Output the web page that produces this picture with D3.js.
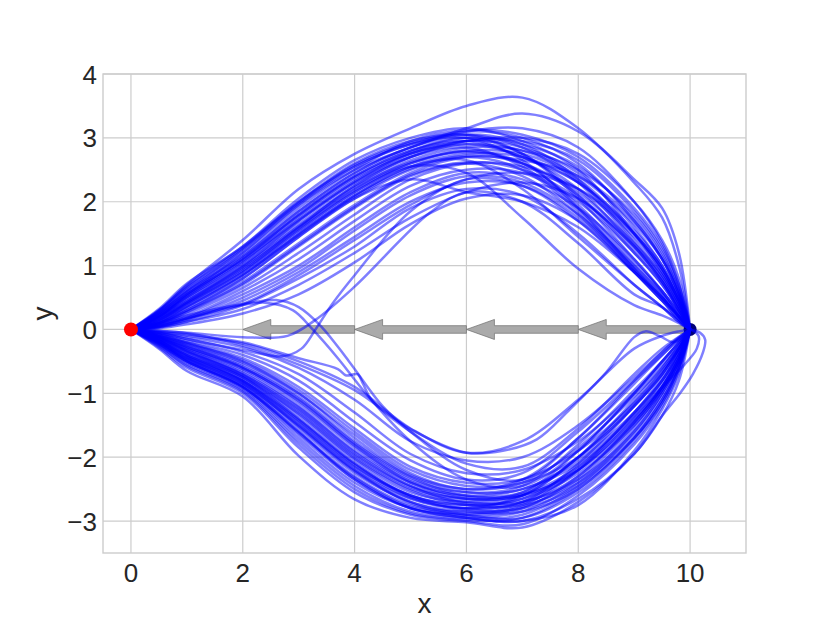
<!DOCTYPE html>
<html><head><meta charset="utf-8">
<script src="https://cdn.jsdelivr.net/npm/d3@7"></script>
<style>body{margin:0;background:#fff}svg{display:block}</style>
</head><body>
<svg id="c" width="830" height="623"></svg>
<script>
// ---- data ----
const xTicks = [0, 2, 4, 6, 8, 10];
const yTicks = [-3, -2, -1, 0, 1, 2, 3, 4];
const stations = [0, 0.5, 1, 2, 3, 4, 5, 6, 7, 8, 9, 9.5, 9.8, 10];
const upperPaths = [
  [0,0.3,0.7,1.4,2.2,2.75,3.15,3.5,3.63,3.15,2.3,1.75,1.0,0],
  [0,0.2,0.55,1.2,1.95,2.5,2.85,3.15,3.38,3.1,2.35,1.9,1.2,0],
  [0,0.32,0.72,1.3,2.05,2.65,3.0,3.15,2.95,2.5,1.5,0.9,0.45,0],
  [0,0.28,0.65,1.25,2.0,2.55,2.9,3.1,3.0,2.6,1.7,1.1,0.55,0],
  [0,0.25,0.6,1.15,1.85,2.45,2.85,3.05,2.9,2.35,1.4,0.85,0.4,0],
  [0,0.22,0.55,1.1,1.8,2.4,2.8,3.0,2.75,2.1,1.2,0.7,0.3,0],
  [0,0.2,0.5,1.05,1.7,2.3,2.75,2.95,2.85,2.45,1.6,1.0,0.5,0],
  [0,0.18,0.45,1.0,1.65,2.25,2.7,2.9,2.7,2.2,1.3,0.75,0.35,0],
  [0,0.15,0.42,0.95,1.6,2.2,2.65,2.85,2.8,2.5,1.8,1.2,0.6,0],
  [0,0.14,0.4,0.9,1.55,2.15,2.6,2.8,2.6,1.95,1.05,0.6,0.25,0],
  [0,0.12,0.36,0.85,1.5,2.1,2.55,2.75,2.7,2.3,1.5,0.95,0.45,0],
  [0,0.1,0.33,0.8,1.45,2.05,2.5,2.7,2.5,1.85,0.95,0.5,0.2,0],
  [0,0.1,0.3,0.75,1.35,1.95,2.45,2.7,2.65,2.4,1.7,1.1,0.55,0],
  [0,0.08,0.27,0.7,1.3,1.9,2.4,2.6,2.4,1.8,0.9,0.45,0.15,0],
  [0,0.07,0.24,0.65,1.2,1.8,2.35,2.6,2.55,2.2,1.45,0.9,0.4,0],
  [0,0.06,0.2,0.6,1.1,1.7,2.25,2.5,2.45,2.0,1.2,0.7,0.3,0],
  [0,0.05,0.18,0.55,1.0,1.6,2.15,2.45,2.35,1.9,1.1,0.6,0.25,0],
  [0,0.04,0.15,0.45,0.9,1.45,2.0,2.3,2.25,1.75,0.95,0.5,0.2,0],
  [0,0.03,0.12,0.38,0.8,1.3,1.9,2.2,2.1,1.5,0.7,0.35,0.12,0],
  [0,0.25,0.6,1.25,1.95,2.55,2.9,3.0,2.65,1.9,0.95,0.5,0.2,0],
  [0,0.27,0.62,1.2,1.9,2.5,2.95,3.12,3.05,2.7,1.9,1.3,0.7,0],
  [0,0.3,0.68,1.3,2.0,2.6,2.95,3.05,2.75,2.05,1.1,0.6,0.25,0],
  [0,0.22,0.5,1.05,1.75,2.35,2.75,2.95,3.0,2.75,2.0,1.4,0.8,0],
  [0,0.18,0.48,1.0,1.7,2.3,2.7,2.85,2.55,1.9,1.0,0.55,0.2,0],
  [0,0.2,0.45,0.95,1.6,2.25,2.7,2.95,2.95,2.65,1.85,1.25,0.65,0],
  [0,0.15,0.4,0.9,1.55,2.15,2.55,2.45,1.75,0.95,0.38,0.22,0.1,0],
  [0,0.12,0.35,0.85,1.5,2.1,2.55,2.65,2.2,1.45,0.7,0.35,0.12,0],
  [0,0.1,0.3,0.8,1.45,2.05,2.35,2.15,2.0,1.6,0.9,0.5,0.2,0],
  [0,0.26,0.58,1.15,1.85,2.45,2.85,3.1,3.15,2.85,2.0,1.35,0.7,0],
  [0,0.24,0.55,1.1,1.8,2.4,2.8,2.95,2.7,2.3,1.55,1.0,0.5,0],
  [0,0.2,0.52,1.08,1.72,2.32,2.78,3.0,2.9,2.55,1.75,1.15,0.6,0],
  [0,0.17,0.43,0.98,1.62,2.22,2.62,2.8,2.75,2.35,1.5,0.95,0.45,0],
  [0,0.29,0.66,1.28,1.98,2.58,2.92,3.05,2.85,2.3,1.35,0.8,0.35,0],
  [0,0.23,0.53,1.12,1.78,2.38,2.76,2.9,2.8,2.4,1.65,1.1,0.55,0],
  [0,0.16,0.41,0.92,1.58,2.18,2.6,2.78,2.6,2.1,1.25,0.75,0.3,0],
  [0,0.13,0.37,0.86,1.48,2.08,2.52,2.72,2.6,2.15,1.35,0.85,0.4,0],
  [0,0.09,0.28,0.72,1.32,1.92,2.42,2.62,2.5,2.05,1.3,0.8,0.35,0],
  [0,0.05,0.16,0.5,0.95,1.55,2.1,2.4,2.3,1.8,1.0,0.55,0.2,0],
  [0,0.02,0.08,0.25,0.55,1.05,1.65,2.05,2.1,1.7,0.9,0.45,0.15,0],
  [0,0.04,0.12,0.32,0.7,1.2,1.75,2.15,2.3,2.05,1.3,0.75,0.3,0],
  [0,0.06,0.17,0.4,0.85,1.4,1.95,2.35,2.45,2.2,1.5,0.95,0.45,0]
];
const lowerPaths = [
  [0,-0.3,-0.65,-1.05,-1.98,-2.66,-2.95,-3.02,-3.1,-2.7,-1.95,-1.35,-0.8,0],
  [0,-0.28,-0.6,-1.0,-1.85,-2.55,-2.9,-3.0,-3.05,-2.6,-1.8,-1.2,-0.65,0],
  [0,-0.25,-0.55,-0.95,-1.75,-2.45,-2.85,-2.95,-2.9,-2.45,-1.6,-1.0,-0.5,0],
  [0,-0.22,-0.5,-0.9,-1.65,-2.35,-2.8,-2.9,-2.8,-2.3,-1.45,-0.9,-0.45,0],
  [0,-0.2,-0.48,-0.88,-1.6,-2.3,-2.75,-2.85,-2.75,-2.2,-1.3,-0.8,-0.4,0],
  [0,-0.2,-0.45,-0.85,-1.5,-2.2,-2.7,-2.85,-2.85,-2.5,-1.7,-1.1,-0.6,0],
  [0,-0.18,-0.42,-0.8,-1.45,-2.15,-2.6,-2.8,-2.7,-2.1,-1.2,-0.7,-0.3,0],
  [0,-0.17,-0.4,-0.78,-1.4,-2.1,-2.6,-2.75,-2.65,-2.25,-1.5,-0.95,-0.5,0],
  [0,-0.16,-0.38,-0.75,-1.35,-2.05,-2.55,-2.7,-2.6,-2.0,-1.1,-0.6,-0.25,0],
  [0,-0.15,-0.35,-0.72,-1.3,-2.0,-2.5,-2.7,-2.7,-2.35,-1.6,-1.0,-0.5,0],
  [0,-0.14,-0.33,-0.7,-1.25,-1.95,-2.45,-2.65,-2.55,-1.9,-1.0,-0.5,-0.2,0],
  [0,-0.13,-0.3,-0.65,-1.2,-1.9,-2.4,-2.6,-2.5,-2.1,-1.35,-0.85,-0.4,0],
  [0,-0.12,-0.28,-0.6,-1.1,-1.8,-2.35,-2.55,-2.45,-1.8,-0.95,-0.5,-0.2,0],
  [0,-0.1,-0.25,-0.55,-1.05,-1.75,-2.3,-2.55,-2.5,-2.05,-1.3,-0.8,-0.35,0],
  [0,-0.1,-0.22,-0.5,-1.0,-1.65,-2.25,-2.5,-2.35,-1.7,-0.85,-0.4,-0.15,0],
  [0,-0.08,-0.2,-0.45,-0.9,-1.55,-2.15,-2.4,-2.35,-1.9,-1.15,-0.65,-0.3,0],
  [0,-0.07,-0.18,-0.4,-0.8,-1.45,-2.05,-2.35,-2.25,-1.6,-0.8,-0.4,-0.15,0],
  [0,-0.06,-0.15,-0.35,-0.7,-1.3,-1.95,-2.25,-2.2,-1.75,-1.0,-0.55,-0.25,0],
  [0,-0.05,-0.12,-0.28,-0.6,-1.1,-1.75,-2.05,-2.0,-1.5,-0.75,-0.35,-0.12,0],
  [0,-0.04,-0.1,-0.22,-0.5,-0.9,-1.55,-1.93,-1.75,-1.1,-0.3,-0.1,-0.03,0],
  [0,-0.24,-0.52,-0.92,-1.7,-2.4,-2.8,-2.95,-3.0,-2.75,-1.9,-1.25,-0.7,0],
  [0,-0.21,-0.47,-0.86,-1.55,-2.25,-2.7,-2.9,-2.95,-2.55,-1.75,-1.15,-0.6,0],
  [0,-0.19,-0.44,-0.82,-1.5,-2.2,-2.65,-2.8,-2.6,-2.0,-1.15,-0.65,-0.3,0],
  [0,-0.15,-0.36,-0.74,-1.32,-2.02,-2.52,-2.75,-2.75,-2.4,-1.65,-1.05,-0.55,0],
  [0,-0.12,-0.3,-0.62,-1.15,-1.85,-2.4,-2.65,-2.6,-2.2,-1.4,-0.9,-0.45,0],
  [0,-0.11,-0.26,-0.58,-1.08,-1.78,-2.32,-2.6,-2.55,-2.0,-1.2,-0.7,-0.3,0],
  [0,-0.09,-0.23,-0.52,-1.0,-1.7,-2.28,-2.5,-2.4,-1.85,-1.05,-0.6,-0.25,0],
  [0,-0.2,-0.46,-0.84,-1.52,-2.22,-2.72,-2.92,-2.85,-2.4,-1.55,-0.95,-0.45,0],
  [0,-0.17,-0.4,-0.8,-1.42,-2.12,-2.62,-2.82,-2.8,-2.45,-1.7,-1.15,-0.6,0],
  [0,-0.13,-0.32,-0.68,-1.22,-1.92,-2.45,-2.72,-2.65,-2.15,-1.3,-0.75,-0.35,0],
  [0,-0.26,-0.57,-0.97,-1.8,-2.5,-2.88,-2.98,-2.95,-2.5,-1.7,-1.1,-0.55,0],
  [0,-0.23,-0.5,-0.9,-1.62,-2.32,-2.78,-2.88,-2.78,-2.35,-1.5,-0.95,-0.5,0],
  [0,-0.18,-0.43,-0.81,-1.46,-2.16,-2.64,-2.8,-2.72,-2.3,-1.45,-0.9,-0.45,0],
  [0,-0.14,-0.34,-0.71,-1.27,-1.97,-2.47,-2.66,-2.6,-2.2,-1.45,-0.9,-0.4,0],
  [0,-0.11,-0.27,-0.6,-1.12,-1.82,-2.38,-2.62,-2.58,-2.15,-1.35,-0.8,-0.35,0],
  [0,-0.08,-0.21,-0.48,-0.95,-1.6,-2.2,-2.45,-2.4,-2.0,-1.2,-0.7,-0.3,0]
];
// explicit (x, y) trajectories: crossings, kinks and end loops
const freePaths = [
  [[0,0],[0.5,0.08],[1,0.18],[1.8,0.35],[2.4,0.42],[2.9,0.3],[3.25,0],[3.7,-0.45],[4.2,-1.0],[5,-1.75],[6,-2.35],[7,-2.45],[8,-1.9],[9,-1.0],[9.5,-0.5],[9.8,-0.2],[10,0]],
  [[0,0],[0.5,0.1],[1,0.22],[2,0.4],[2.6,0.46],[3.0,0.35],[3.4,0.05],[3.9,-0.5],[4.5,-1.2],[5,-1.6],[6,-2.2],[7,-2.35],[8,-1.7],[9,-0.8],[9.5,-0.35],[10,0]],
  [[0,0],[0.5,-0.05],[1,-0.15],[2,-0.32],[2.7,-0.42],[3.05,-0.3],[3.3,0.0],[3.6,0.4],[4,0.85],[5,1.85],[6,2.35],[7,2.25],[8,1.7],[9,0.9],[9.5,0.45],[9.8,0.2],[10,0]],
  [[0,0],[1,-0.05],[2,-0.12],[2.8,-0.1],[3.3,0.15],[4,0.67],[5.35,1.83],[6,2.15],[7,2.0],[8,1.35],[9,0.55],[9.5,0.35],[10,0]],
  [[0,0],[1,-0.08],[2,-0.2],[3,-0.45],[3.7,-0.62],[3.85,-0.72],[4.05,-0.7],[4.15,-0.85],[4.3,-1.1],[5,-1.6],[6,-2.1],[7,-2.15],[8,-1.55],[9,-0.7],[9.5,-0.3],[10,0]],
  [[0,0],[0.5,-0.22],[1,-0.5],[2,-0.9],[3,-1.6],[4,-2.35],[5,-2.8],[6,-2.95],[7,-3.0],[8,-2.65],[9,-1.95],[9.5,-1.35],[9.82,-1.0],[10.05,-0.7],[10.23,-0.36],[10.27,-0.16],[10.18,-0.05],[10,0]],
  [[0,0],[0.5,-0.18],[1,-0.4],[2,-0.75],[3,-1.4],[4,-2.1],[5,-2.6],[6,-2.75],[7,-2.7],[8,-2.2],[9,-1.4],[9.5,-0.9],[9.9,-0.55],[10.12,-0.3],[10.15,-0.1],[10,0]],
  [[0,0],[1,-0.06],[2,-0.25],[3,-0.55],[4,-0.95],[5,-1.56],[6,-1.93],[6.65,-1.9],[7.26,-1.72],[7.85,-1.25],[8.5,-0.67],[9.0,-0.12],[9.2,-0.03],[9.45,-0.1],[9.7,-0.2],[9.9,-0.1],[10,0]]
];
const arrowTails = [10, 8, 6, 4];
const arrowDx = -2;
const startPt = [0, 0];
const goalPt = [10, 0];

// ---- chart ----
const svg = d3.select("#c");
const L = 103, R = 746, T = 74, B = 553;
const x = d3.scaleLinear().domain([-0.5, 11]).range([L, R]);
const y = d3.scaleLinear().domain([-3.5, 4]).range([B, T]);
const font = "'Liberation Sans', Arial, sans-serif";
const textCol = "#262626";

const g = svg.append("g");
g.selectAll(".gx").data(xTicks).enter().append("line")
  .attr("x1", d => x(d)).attr("x2", d => x(d)).attr("y1", T).attr("y2", B)
  .attr("stroke", "#cccccc").attr("stroke-width", 1.2);
g.selectAll(".gy").data(yTicks).enter().append("line")
  .attr("y1", d => y(d)).attr("y2", d => y(d)).attr("x1", L).attr("x2", R)
  .attr("stroke", "#cccccc").attr("stroke-width", 1.2);

svg.append("clipPath").attr("id", "clp").append("rect")
  .attr("x", L).attr("y", T).attr("width", R - L).attr("height", B - T);
const plot = svg.append("g").attr("clip-path", "url(#clp)");

// arrows (quiver)
const shaftH = 3.8, headH = 10, headL = 28;
arrowTails.forEach(t => {
  const x0 = x(t), x1 = x(t + arrowDx), y0 = y(0);
  const hb = x1 + headL;
  const pts = [[x0, y0 - shaftH], [hb, y0 - shaftH], [hb, y0 - headH], [x1, y0],
               [hb, y0 + headH], [hb, y0 + shaftH], [x0, y0 + shaftH]];
  plot.append("path").attr("d", "M" + pts.map(p => p.join(",")).join("L") + "Z")
    .attr("fill", "#aaaaaa").attr("stroke", "#707070").attr("stroke-width", 0.9)
    .attr("stroke-opacity", 0.8);
});

// goal point under the lines
plot.append("circle").attr("cx", x(goalPt[0])).attr("cy", y(goalPt[1])).attr("r", 6.5).attr("fill", "#00007a");

const line = d3.line().x(d => x(d[0])).y(d => y(d[1])).curve(d3.curveCatmullRom.alpha(0.5));
const all = [];
upperPaths.forEach(p => all.push(p.map((v, i) => [stations[i], v])));
lowerPaths.forEach(p => all.push(p.map((v, i) => [stations[i], v])));
freePaths.forEach(p => all.push(p));
plot.selectAll(".traj").data(all).enter().append("path")
  .attr("d", line).attr("fill", "none").attr("stroke", "#0000ff")
  .attr("stroke-opacity", 0.5).attr("stroke-width", 2.5);

plot.append("circle").attr("cx", x(startPt[0])).attr("cy", y(startPt[1])).attr("r", 7).attr("fill", "#ff0000");

svg.append("rect").attr("x", L).attr("y", T).attr("width", R - L).attr("height", B - T)
  .attr("fill", "none").attr("stroke", "#cccccc").attr("stroke-width", 1.4);

// tick labels
svg.selectAll(".xl").data(xTicks).enter().append("text")
  .attr("x", d => x(d)).attr("y", B + 29).attr("text-anchor", "middle")
  .attr("font-family", font).attr("font-size", 26).attr("fill", textCol)
  .text(d => d3.format("d")(d));
svg.selectAll(".yl").data(yTicks).enter().append("text")
  .attr("x", L - 6).attr("y", d => y(d) + 9.5).attr("text-anchor", "end")
  .attr("font-family", font).attr("font-size", 26).attr("fill", textCol)
  .text(d => d < 0 ? "\u2212" + Math.abs(d) : String(d));
svg.append("text").attr("x", (L + R) / 2).attr("y", B + 60).attr("text-anchor", "middle")
  .attr("font-family", font).attr("font-size", 28).attr("fill", textCol).text("x");
svg.append("text").attr("transform", `translate(52,${(T + B) / 2}) rotate(-90)`)
  .attr("text-anchor", "middle").attr("font-family", font).attr("font-size", 28)
  .attr("fill", textCol).text("y");
</script>
</body></html>
